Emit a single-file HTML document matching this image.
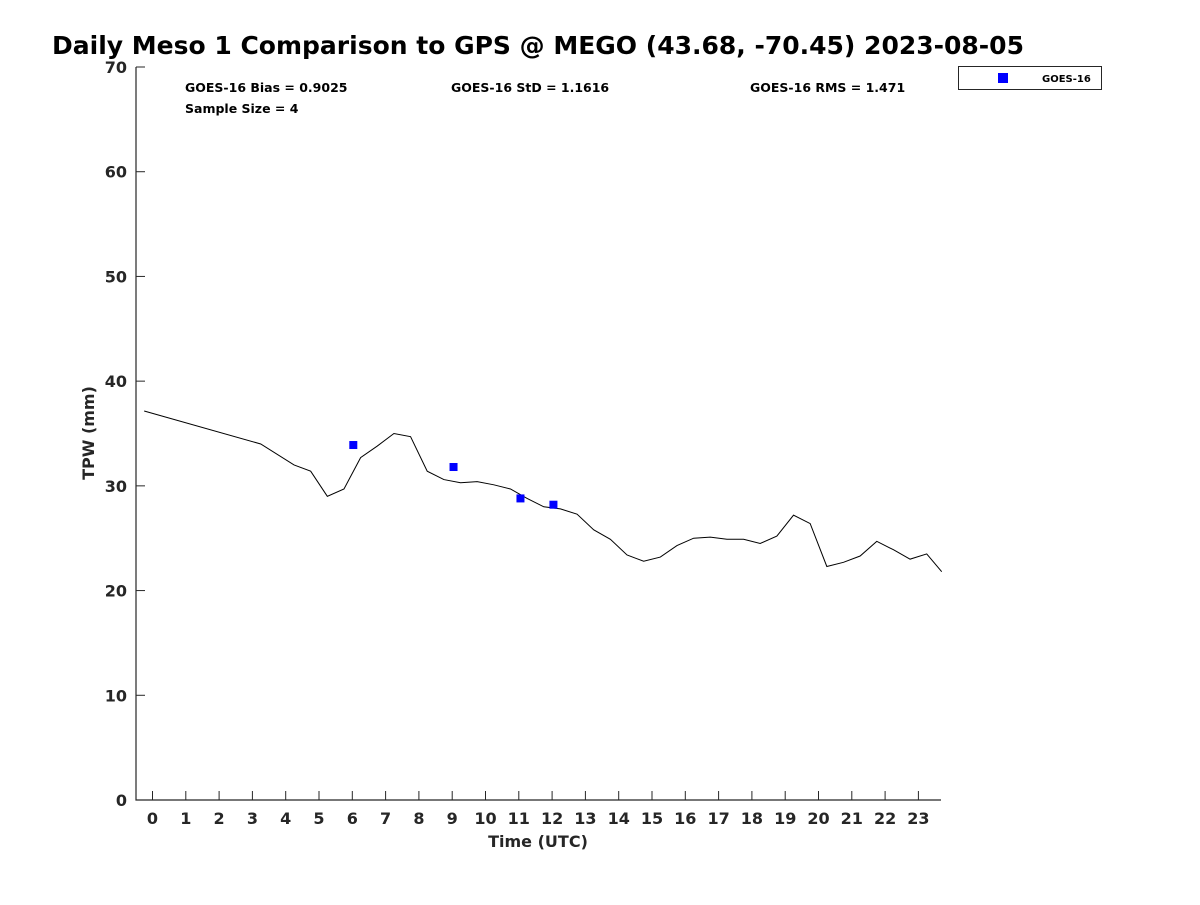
<!DOCTYPE html>
<html><head><meta charset="utf-8"><style>
body{margin:0;background:#fff;}
svg text{font-family:"DejaVu Sans","Liberation Sans",sans-serif;font-weight:bold;fill:#262626;}
</style></head><body>
<svg id="chart" width="1200" height="900" xmlns="http://www.w3.org/2000/svg">
<rect width="1200" height="900" fill="#fff"/>
<text x="52" y="54" font-size="25" style="fill:#000">Daily Meso 1 Comparison to GPS @ MEGO (43.68, -70.45) 2023-08-05</text>
<g id="axes"></g>
<g id="marks"></g>
<text x="185" y="92" font-size="12.5" style="fill:#000">GOES-16 Bias = 0.9025</text>
<text x="451" y="92" font-size="12.5" style="fill:#000">GOES-16 StD = 1.1616</text>
<text x="750" y="92" font-size="12.5" style="fill:#000">GOES-16 RMS = 1.471</text>
<text x="185" y="113" font-size="12.5" style="fill:#000">Sample Size = 4</text>
<g>
<rect x="958.5" y="66.5" width="143" height="23" fill="#fff" stroke="#262626"/>
<rect x="998" y="73" width="10" height="10" fill="#0000ff"/>
<text x="1042" y="82" font-size="10" style="fill:#000">GOES-16</text>
</g>
<text x="538" y="847" font-size="16" text-anchor="middle">Time (UTC)</text>
<text transform="translate(94,433) rotate(-90)" font-size="16" text-anchor="middle">TPW (mm)</text>
</svg>
<script>
const gpsHours=[-0.25,3.25,4.25,4.75,5.25,5.75,6.25,6.75,7.25,7.75,8.25,8.75,9.25,9.75,10.25,10.75,11.25,11.75,12.25,12.75,13.25,13.75,14.25,14.75,15.25,15.75,16.25,16.75,17.25,17.75,18.25,18.75,19.25,19.75,20.25,20.75,21.25,21.75,22.25,22.75,23.25,23.7];
const gpsTPW=[37.15,34.0,32.0,31.4,29.0,29.7,32.7,33.8,35.0,34.7,31.4,30.6,30.3,30.4,30.1,29.7,28.8,28.0,27.8,27.3,25.8,24.9,23.4,22.8,23.2,24.3,25.0,25.1,24.9,24.9,24.5,25.2,27.2,26.4,22.3,22.7,23.3,24.7,23.9,23.0,23.5,21.8];
const goesHours=[6.03,9.04,11.05,12.04];
const goesTPW=[33.9,31.8,28.8,28.2];
const xTicks=[0,1,2,3,4,5,6,7,8,9,10,11,12,13,14,15,16,17,18,19,20,21,22,23];
const yTicks=[0,10,20,30,40,50,60,70];
const NS="http://www.w3.org/2000/svg";
const L=136,R=941,T=67,B=800;
const x=h=>152.5+h*33.3;
const y=v=>B-(v/70)*(B-T);
function mk(t,a,p){const e=document.createElementNS(NS,t);for(const k in a)e.setAttribute(k,a[k]);p.appendChild(e);return e;}
const ax=document.getElementById('axes'),mg=document.getElementById('marks');
const axl=mk('path',{d:`M${L},${T}V${B}H${R}`,fill:'none',stroke:'#262626','stroke-width':1.2},ax);


xTicks.forEach(h=>{
 const tk=mk('line',{x1:x(h),x2:x(h),y1:B,y2:B-9,stroke:'#262626'},ax);
 
 
 const t=mk('text',{x:x(h),y:B+24,'font-size':16,'text-anchor':'middle'},ax);t.textContent=h;
 
 
});
yTicks.forEach(v=>{
 const tk=mk('line',{x1:L,x2:L+9,y1:y(v),y2:y(v),stroke:'#262626'},ax);
 
 
 const t=mk('text',{x:L-9,y:y(v)+6,'font-size':16,'text-anchor':'end'},ax);t.textContent=v;
 
 
});
const ln=mk('polyline',{points:gpsHours.map((h,i)=>x(h)+','+y(gpsTPW[i])).join(' '),fill:'none',stroke:'#000','stroke-width':1},mg);


goesHours.forEach((h,i)=>{
 const r=mk('rect',{x:x(h)-4,y:y(goesTPW[i])-4,width:8,height:8,fill:'#0000ff'},mg);
 
 
});
</script>
</body></html>
